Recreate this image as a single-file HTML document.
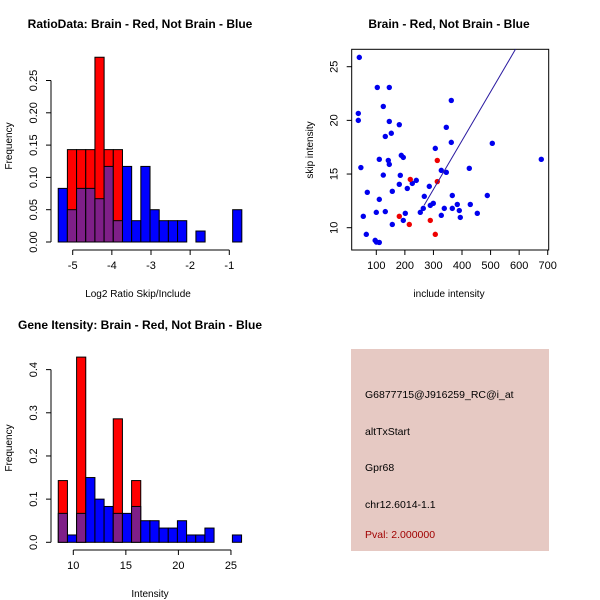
<!DOCTYPE html>
<html><head><meta charset="utf-8"><style>
body{margin:0;background:#fff}
svg{display:block;font-family:"Liberation Sans",sans-serif}
</style></head><body>
<svg id="c" width="600" height="600">
<rect x="0" y="0" width="600" height="600" fill="#fff"/>
</svg>
<script>
// Panel 1: ratio histogram
const ratioBlue=[0.083,0.05,0.083,0.083,0.067,0.117,0.033,0.117,0.033,0.117,0.05,0.033,0.033,0.033,0,0.017,0,0,0,0.05];
const ratioRed=[0,0.143,0.143,0.143,0.286,0.143,0.143,0,0,0,0,0,0,0,0,0,0,0,0,0];
const ratioXTicks=[-5,-4,-3,-2,-1];
const ratioYTicks=["0.00","0.05","0.10","0.15","0.20","0.25"];
// Panel 3: intensity histogram
const intBlue=[0.067,0.017,0.067,0.15,0.1,0.083,0.067,0.067,0.083,0.05,0.05,0.033,0.033,0.05,0.017,0.017,0.033,0,0,0.017];
const intRed=[0.143,0,0.429,0,0,0,0.286,0,0.143,0,0,0,0,0,0,0,0,0,0,0];
const intXTicks=[10,15,20,25];
const intYTicks=["0.0","0.1","0.2","0.3","0.4"];
// Panel 2: scatter
const blueX=[40.5,37,37,103.5,145.5,124.5,145.5,131.5,152.5,180.5,46,110.5,142,145.5,124.5,110.5,68.5,54.5,100,131.5,65,96,100.5,110.5,156,156,180.5,184,187.5,194.5,201.5,194.5,208.5,226,240,254,264.5,268,285.5,289,299.5,306.5,327.5,327.5,345,345,338,362.5,362.5,366,366,383.5,390.5,394,429,425.5,453.5,488.5,506,677.5];
const blueY=[25.87,20.65,20.0,23.07,23.07,21.3,19.9,18.5,18.8,19.6,15.6,16.37,16.27,15.9,14.9,12.64,13.3,11.06,11.43,11.5,9.38,8.82,8.66,8.63,10.3,13.39,14.04,14.88,16.74,16.55,11.34,10.68,13.66,14.13,14.41,11.43,11.8,12.92,13.85,12.08,12.27,17.39,11.15,15.34,15.16,19.35,11.8,21.86,17.95,13.0,11.8,12.17,11.6,10.96,12.17,15.53,11.34,13.0,17.86,16.37];
const redX=[219,313.5,313.5,180.5,215.5,289,306.5];
const redY=[14.5,16.27,14.3,11.06,10.3,10.68,9.38];
const fitLine=[-0.065,0.04545];
const scXTicks=[100,200,300,400,500,600,700];
const scYTicks=[10,15,20,25];
const infoLines=["G6877715@J916259_RC@i_at","altTxStart","Gpr68","chr12.6014-1.1"];
const pvalText="Pval: 2.000000";

const svg=document.getElementById('c');
const NS='http://www.w3.org/2000/svg';
function mk(tag,attrs,parent){const e=document.createElementNS(NS,tag);for(const k in attrs)e.setAttribute(k,attrs[k]);(parent||svg).appendChild(e);return e;}
function txt(x,y,s,attrs){const t=mk('text',Object.assign({x:x,y:y,'font-size':11,fill:'#000'},attrs||{}));t.textContent=s;return t;}

function hist(o){
  const g=mk('g',{});
  
  
  const X=v=>o.px0+(v-o.v0)*o.sx, Y=v=>o.py0-v*o.sy;
  for(let i=0;i<o.blue.length;i++){
    const b=o.blue[i],r=o.red[i];
    const x0=X(o.b0+i*o.bw),x1=X(o.b0+(i+1)*o.bw);
    const hi=Math.max(b,r),lo=Math.min(b,r);
    if(hi>0){
      const bar=mk('rect',{x:x0,y:Y(hi),width:x1-x0,height:Y(0)-Y(hi),fill:r>b?'#ff0000':'#0000ff',stroke:'#000','stroke-width':1},g);
      
      
    }
    if(lo>0){
      const ov=mk('rect',{x:x0,y:Y(lo),width:x1-x0,height:Y(0)-Y(lo),fill:'#7f1f88',stroke:'#000','stroke-width':1},g);
      
      
    }
  }
  const xt=o.xticks;
  mk('line',{x1:X(xt[0]),x2:X(xt[xt.length-1]),y1:o.axy,y2:o.axy,stroke:'#000'},g);
  xt.forEach(v=>{mk('line',{x1:X(v),x2:X(v),y1:o.axy,y2:o.axy+5,stroke:'#000'},g);txt(X(v),o.axy+19,String(v),{'text-anchor':'middle'});});
  const yv=o.yticks.map(Number);
  mk('line',{x1:o.axx,x2:o.axx,y1:Y(yv[0]),y2:Y(yv[yv.length-1]),stroke:'#000'},g);
  o.yticks.forEach(s=>{const y=Y(Number(s));mk('line',{x1:o.axx,x2:o.axx-5,y1:y,y2:y,stroke:'#000'},g);txt(o.axx-14,y,s,{'text-anchor':'middle',transform:`rotate(-90 ${o.axx-14} ${y})`});});
}

const t1=txt(140,28,"RatioData: Brain - Red, Not Brain - Blue",{'text-anchor':'middle','font-weight':'bold','font-size':12});

const t2=txt(449,28,"Brain - Red, Not Brain - Blue",{'text-anchor':'middle','font-weight':'bold','font-size':12});

const t3=txt(140,329,"Gene Itensity: Brain - Red, Not Brain - Blue",{'text-anchor':'middle','font-weight':'bold','font-size':12});


hist({name:'ratio-histogram',blue:ratioBlue,red:ratioRed,b0:-5.37,bw:0.2345,v0:-5,px0:72.7,sx:39.15,py0:242,sy:646,xticks:ratioXTicks,yticks:ratioYTicks,axy:250,axx:51});
let a=txt(138,297,"Log2 Ratio Skip/Include",{'text-anchor':'middle','font-size':10});

a=txt(12,146,"Frequency",{'text-anchor':'middle','font-size':10,transform:'rotate(-90 12 146)'});


hist({name:'intensity-histogram',blue:intBlue,red:intRed,b0:8.57,bw:0.872,v0:10,px0:73.3,sx:10.51,py0:542.3,sy:431.7,xticks:intXTicks,yticks:intYTicks,axy:550,axx:51});
a=txt(150,597,"Intensity",{'text-anchor':'middle','font-size':10});

a=txt(12,448,"Frequency",{'text-anchor':'middle','font-size':10,transform:'rotate(-90 12 448)'});


(function(){
  const g=mk('g',{});
  
  
  const X=v=>376.3+(v-100)*0.2857, Y=v=>227.7-(v-10)*10.733;
  const L=351.7,R=548.7,T=49.3,B=250;
  const box=mk('rect',{x:L,y:T,width:R-L,height:B-T,fill:'none',stroke:'#000'},g);
  
  scXTicks.forEach(v=>{mk('line',{x1:X(v),x2:X(v),y1:B,y2:B+5,stroke:'#000'},g);txt(X(v),B+19,String(v),{'text-anchor':'middle'});});
  scYTicks.forEach(v=>{const y=Y(v);mk('line',{x1:L,x2:L-5,y1:y,y2:y,stroke:'#000'},g);txt(L-14,y,String(v),{'text-anchor':'middle',transform:`rotate(-90 ${L-14} ${y})`});});
  blueX.forEach((x,i)=>{const c=mk('circle',{cx:X(x),cy:Y(blueY[i]),r:2.7,fill:'#0000ee'},g);});
  redX.forEach((x,i)=>{const c=mk('circle',{cx:X(x),cy:Y(redY[i]),r:2.7,fill:'#ee0000'},g);});
  const yb=(227.7-T)/10.733+10, xb=(yb-fitLine[0])/fitLine[1];
  const ya=(227.7-B)/-10.733+10; const xA=(ya-fitLine[0])/fitLine[1];
  const ln=mk('line',{x1:X(xA),y1:Y(ya),x2:X(xb),y2:Y(yb),stroke:'#2a1aa0','stroke-width':1},g);
  
  let t=txt(449,297,"include intensity",{'text-anchor':'middle','font-size':10});
  
  t=txt(313,150,"skip intensity",{'text-anchor':'middle','font-size':10,transform:'rotate(-90 313 150)'});
  
})();

const ib=mk('rect',{x:351,y:349,width:198,height:202,fill:'#e6c9c3'});

const ys=[398,435,471,508];
infoLines.forEach((s,i)=>{const t=txt(365,ys[i],s,{'font-size':10.5});});
const pv=txt(365,538,pvalText,{'font-size':10.5,fill:'#a00000'});

</script>
</body></html>
